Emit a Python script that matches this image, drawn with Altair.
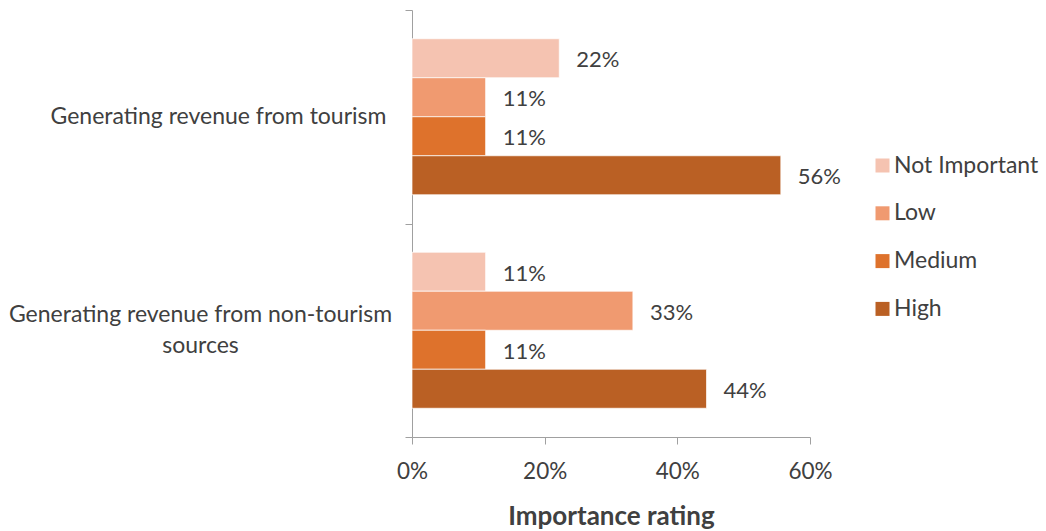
import altair as alt
import pandas as pd

categories = ["Generating revenue from tourism", "Generating revenue from non-tourism sources"]
series = ["Not Important", "Low", "Medium", "High"]
tourism = [0.222, 0.111, 0.111, 0.556]
non_tourism = [0.111, 0.333, 0.111, 0.444]
colors = ["#F5C3B1", "#F09A70", "#DE722C", "#BA6024"]
x_ticks = [0, 0.2, 0.4, 0.6]

rows = []
for cat, vals in zip(categories, [tourism, non_tourism]):
    for s, v in zip(series, vals):
        rows.append({"category": cat, "series": s, "value": v})
df = pd.DataFrame(rows)

FONT = "Lato"
TXT = "#404040"
AX = "#A0A0A0"

wrap = ("length(datum.label) > 35 ? [slice(datum.label, 0, lastindexof(datum.label, ' ')), "
        "slice(datum.label, lastindexof(datum.label, ' ') + 1)] : datum.label")
is_long = "datum.value == '" + categories[1] + "'"

y = alt.Y("category:N", sort=categories,
          scale=alt.Scale(paddingInner=0, paddingOuter=0),
          axis=alt.Axis(title=None, tickBand="extent", tickSize=7, tickColor=AX,
                        domainColor=AX, labelAlign="center",
                        labelPadding={"condition": {"test": is_long, "value": 205}, "value": 187},
                        labelOffset={"condition": {"test": is_long, "value": -15.5}, "value": 0},
                        labelLimit=500, labelFontSize=23, labelColor=TXT, labelFont=FONT,
                        labelLineHeight=31, labelExpr=wrap, grid=False))
yoff = alt.YOffset("series:N", sort=series,
                   scale=alt.Scale(paddingInner=0, paddingOuter=0.737))
x = alt.X("value:Q", scale=alt.Scale(domain=[0, 0.6], nice=False),
          axis=alt.Axis(values=x_ticks, format=".0%", title="Importance rating",
                        tickSize=7, tickColor=AX, domainColor=AX, grid=False,
                        labelFlush=False,
                        labelFontSize=22.5, labelColor=TXT, labelFont=FONT, labelPadding=16,
                        titleFontSize=26, titleFont=FONT, titleFontWeight="bold",
                        titleColor=TXT, titlePadding=21))

bars = alt.Chart(df).mark_bar(stroke="white", strokeWidth=0.7).encode(
    x=x, y=y, yOffset=yoff,
    color=alt.Color("series:N", sort=series,
                    scale=alt.Scale(domain=series, range=colors),
                    legend=alt.Legend(title=None, orient="none", legendX=459, legendY=144,
                                      symbolType="square", symbolSize=196,
                                      symbolStrokeWidth=0, labelFontSize=23,
                                      labelColor=TXT, labelFont=FONT, rowPadding=23.8,
                                      labelOffset=0)),
)

labels = alt.Chart(df).mark_text(align="left", baseline="middle", dx=17, dy=2, fontSize=22,
                                 color=TXT, font=FONT).encode(
    x="value:Q", y=alt.Y("category:N", sort=categories), yOffset=yoff,
    text=alt.Text("value:Q", format=".0%"),
)

chart = alt.layer(bars, labels).properties(
    width=398, height=427,
    autosize=alt.AutoSizeParams(type="none"),
    padding={"left": 412, "top": 10, "right": 236, "bottom": 94},
    background="white",
).configure_view(stroke=None, strokeWidth=0)

chart.save("out.html", embed_options={"renderer": "svg", "actions": False})
